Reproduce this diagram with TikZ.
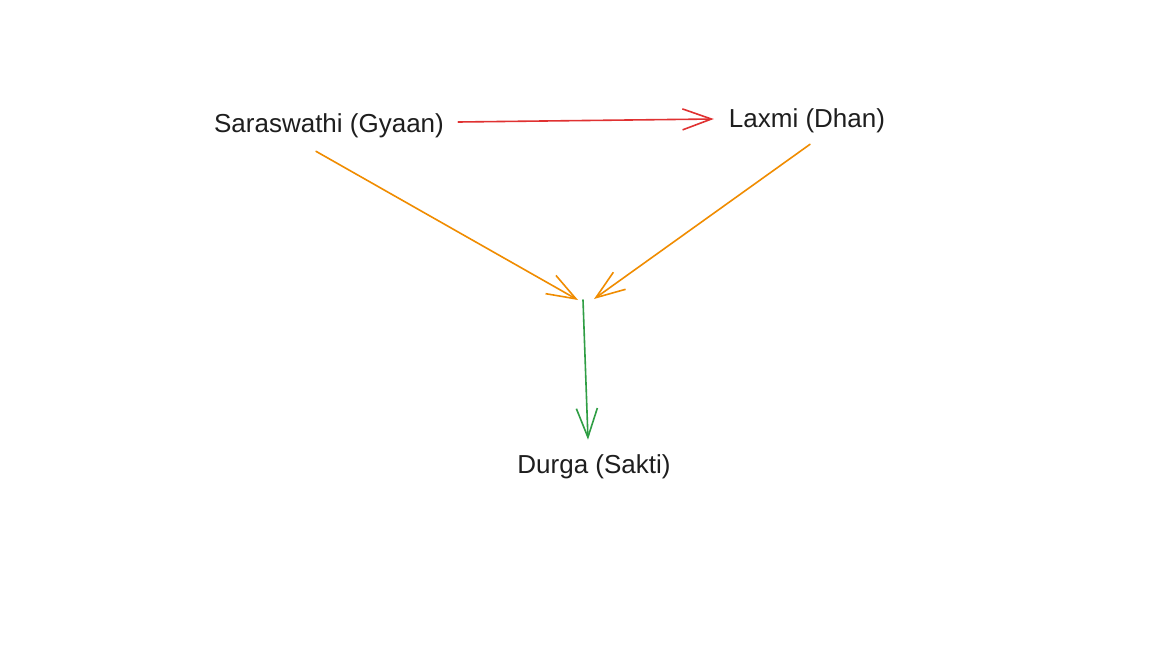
\documentclass[tikz,border=0pt]{standalone}
\usepackage{fontspec}
\setmainfont{Liberation Sans}
\usetikzlibrary{arrows.meta,calc}
\definecolor{exred}{HTML}{E03131}
\definecolor{exorange}{HTML}{F08C00}
\definecolor{exgreen}{HTML}{2F9E44}
\definecolor{extext}{HTML}{1E1E1E}
\tikzset{
  label/.style={text=extext, font=\fontsize{26}{30}\selectfont, inner sep=0pt},
  conn/.style={line width=1.6pt, line cap=round, -{Straight Barb[length=29pt,width=21pt,line width=1.6pt]}},
}
\begin{document}
\begin{tikzpicture}[x=1pt,y=-1pt]
\useasboundingbox[fill=white] (0,0) rectangle (1152,648);
\node[label] (sar) at (329,126) {Saraswathi (Gyaan)};
\node[label] (lax) at (807,121) {Laxmi (Dhan)};
\node[label] (dur) at (594,467) {Durga (Sakti)};
\coordinate (J) at (583,300);
\coordinate (sarOut) at ($(sar.south)+(-13,13)$);
\coordinate (laxOut) at ($(lax.south)+(3,11)$);
\draw[conn, exred] ($(sar.east)+(14,-4)$) -- ($(lax.west)+(-15,-2)$);
\draw[conn, exorange] (sarOut) -- ($(J)+(-5,0)$);
\draw[conn, exorange] (laxOut) -- ($(J)+(11,-1)$);
\draw[conn, exgreen] (J) -- ($(dur.north)+(-6,-15)$);
\end{tikzpicture}
\end{document}
